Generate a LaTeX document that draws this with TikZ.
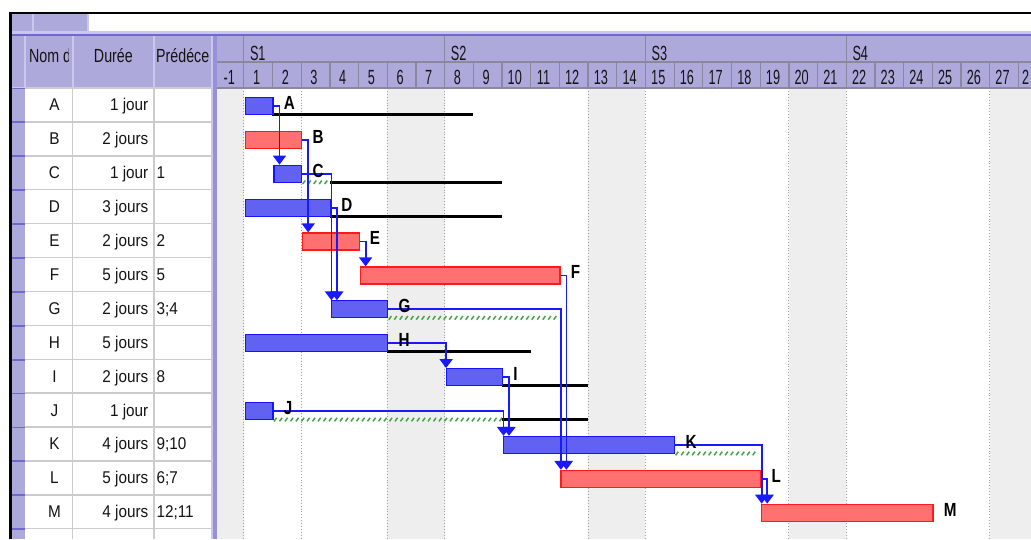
\documentclass[tikz,border=0pt]{standalone}
\usepackage{fontspec}
\setmainfont{Liberation Sans}
\newfontfamily\tabfont[FakeStretch=0.9]{Liberation Sans}
\newfontfamily\hdrfont[FakeStretch=0.75]{Liberation Sans}
\newfontfamily\tsfont[FakeStretch=0.62]{Liberation Sans}
\newfontfamily\lblfont[FakeStretch=0.8]{Liberation Sans}
\usetikzlibrary{arrows.meta,calc}

\definecolor{hdr}{RGB}{173,169,219}
\definecolor{hdrlight}{RGB}{202,199,238}
\definecolor{hdrdark}{RGB}{112,104,204}
\definecolor{sepmid}{RGB}{150,145,216}
\definecolor{hgrid}{RGB}{138,136,160}
\definecolor{tgrid}{RGB}{204,204,204}
\definecolor{wkend}{RGB}{238,238,238}
\definecolor{dotl}{RGB}{160,160,160}
\definecolor{bfill}{RGB}{98,98,242}
\definecolor{bline}{RGB}{20,20,255}
\definecolor{rfill}{RGB}{255,112,112}
\definecolor{rline}{RGB}{255,25,25}
\definecolor{conn}{RGB}{25,25,255}
\definecolor{slackg}{RGB}{70,165,70}
\definecolor{txt}{RGB}{20,20,20}

\tikzset{
  tabtxt/.style={font=\tabfont\fontsize{17}{20}\selectfont, text=txt, inner sep=0pt},
  hdrtxt/.style={font=\hdrfont\fontsize{19}{22}\selectfont, text=txt, inner sep=0pt},
  tstxt/.style={font=\tsfont\fontsize{20.5}{24}\selectfont, text=txt, inner sep=0pt},
  glabel/.style={font=\lblfont\bfseries\fontsize{19}{22}\selectfont, text=black, inner sep=0pt},
  bluebar/.style={draw=bline, fill=bfill, line width=1.2pt, inner sep=0pt, minimum height=17pt},
  redbar/.style={draw=rline, fill=rfill, line width=1.2pt, inner sep=0pt, minimum height=17pt},
  connline/.style={draw=conn, line width=1.8pt, -{Triangle[width=13pt,length=9pt]}},
  slackblack/.style={draw=black, line width=3pt},
  slackgreen/.style={draw=slackg, line width=1.5pt},
  tgridline/.style={draw=tgrid, line width=1.4pt},
  hgridline/.style={draw=hgrid, line width=1.3pt},
  wkline/.style={draw=dotl, line width=0.9pt, dotted},
}

% bar: name, row, start day, end day (exclusive), style
\newcommand\gbar[5]{%
  \pgfmathsetmacro\gxs{243.8+(#3-1)*28.69+1}%
  \pgfmathsetmacro\gxe{243.8+(#4-1)*28.69}%
  \pgfmathsetmacro\gbw{\gxe-\gxs}%
  \pgfmathsetmacro\gby{88+33.9*(#2+0.5)+1}%
  \node[#5, anchor=west, minimum width=\gbw pt] (#1) at (\gxs,\gby) {};%
}
% total slack line: row, start day, end day
\newcommand\tslack[3]{%
  \pgfmathsetmacro\gsy{88+33.9*(#1+0.5)+9.5}%
  \pgfmathsetmacro\gsa{243.8+(#2-1)*28.69}%
  \pgfmathsetmacro\gsb{243.8+(#3-1)*28.69}%
  \draw[slackblack] (\gsa,\gsy) -- (\gsb,\gsy);%
}
% free slack hatch: row, start day, end day
\newcommand\fslack[3]{%
  \pgfmathsetmacro\gfy{88+33.9*(#1+0.5)+9.5}%
  \pgfmathsetmacro\gfa{243.8+(#2-1)*28.69+1.5}%
  \pgfmathtruncatemacro\gfn{((#3-#2)*28.69-4)/5.5}%
  \foreach \k in {0,...,\gfn}{%
    \draw[slackgreen] ({\gfa+5.5*\k},{\gfy+1.8}) -- ++(2.6,-3.6);%
  }%
}

\begin{document}
\begin{tikzpicture}[x=1pt,y=-1pt]
\useasboundingbox (0,0) rectangle (1031,539);
\clip (0,0) rectangle (1031,539);
\fill[white] (0,0) rectangle (1031,539);

% weekend shading in the chart
\foreach \a/\b in {0/1,6/8,13/15,20/22,27/29}{
  \pgfmathsetmacro\wa{243.8+(\a-1)*28.69}
  \pgfmathsetmacro\wb{243.8+(\b-1)*28.69}
  \fill[wkend] (\wa,88) rectangle (\wb,539);
  \draw[wkline] (\wa,88) -- (\wa,539);
  \draw[wkline] (\wb,88) -- (\wb,539);
}
\draw[wkline] (301.18,88) -- (301.18,539);

% table body
\fill[white] (12,88) rectangle (211,539);
\fill[hdr] (12,88) rectangle (25,539);
\draw[tgridline] (72.7,88) -- (72.7,539);
\draw[tgridline] (154,88) -- (154,539);
\foreach \r in {0,...,13}{
  \pgfmathsetmacro\yy{88+33.9*\r}
  \draw[tgridline] (25,\yy) -- (211,\yy);
  \draw[draw=hdrdark, line width=1.8pt] (12,{\yy+0.4}) -- (25,{\yy+0.4});
}

% separator bar between table and chart
\fill[sepmid] (211,31) rectangle (217.3,539);
\fill[hdrlight] (211,31) rectangle (213.3,539);

% headers
\fill[hdr] (12,36) rectangle (211,88);
\fill[hdr] (217.3,36) rectangle (1031,88);
\fill[hdrlight] (12,31) rectangle (1031,34);
\draw[draw=hdrdark, line width=2pt] (12,35) -- (1031,35);
\fill[hdr] (12,14) rectangle (88,31);
\draw[draw=hdrlight, line width=1.5pt] (33,14) -- (33,31);
\draw[draw=hdrlight, line width=1.5pt] (88,14) -- (88,31);
\foreach \sx in {25,72.7,154}{
  \draw[draw=hdrlight, line width=1.8pt] (\sx,36) -- (\sx,88);
}
\draw[draw=hdrlight, line width=1.5pt] (12,87.3) -- (211,87.3);

% time scale grid
\draw[hgridline] (217.3,62) -- (1031,62);
\draw[hgridline] (217.3,88) -- (1031,88);
\foreach \sx in {243.8,444.63,645.46,846.29}{
  \draw[hgridline] (\sx,36) -- (\sx,62);
}
\foreach \n in {1,...,29}{
  \pgfmathsetmacro\gdx{243.8+(\n-1)*28.69}
  \draw[hgridline] (\gdx,62) -- (\gdx,88);
}

% table header texts
\begin{scope}
  \clip (25,36) rectangle (68.6,88);
  \node[hdrtxt, anchor=base west] (hnom) at (29,62.5) {Nom d};
\end{scope}
\node[hdrtxt, anchor=base] (hdur) at (113.4,62.5) {Durée};
\begin{scope}
  \clip (154,36) rectangle (210.5,88);
  \node[hdrtxt, anchor=base west] (hpred) at (156,62.5) {Prédéce};
\end{scope}

% time scale texts
\node[tstxt, anchor=base west] (s1) at (249.8,60) {S1};
\node[tstxt, anchor=base west] (s2) at (450.6,60) {S2};
\node[tstxt, anchor=base west] (s3) at (651.5,60) {S3};
\node[tstxt, anchor=base west] (s4) at (852.3,60) {S4};
\node[tstxt, anchor=base] (daym1) at (229.3,84.3) {-1};
\foreach \n in {1,...,27}{
  \pgfmathsetmacro\gdc{243.8+(\n-1)*28.69+12.8}
  \node[tstxt, anchor=base] (day\n) at (\gdc,84.3) {\n};
}
\node[tstxt, anchor=base west] (day28) at (1022,84.3) {2};

% table texts
\foreach \r/\nm/\du in {0/A/1 jour,1/B/2 jours,2/C/1 jour,3/D/3 jours,4/E/2 jours,5/F/5 jours,6/G/2 jours,7/H/5 jours,8/I/2 jours,9/J/1 jour,10/K/4 jours,11/L/5 jours,12/M/4 jours}{
  \pgfmathsetmacro\gty{88+33.9*(\r+0.5)+6}
  \node[tabtxt, anchor=base] (nm\nm) at (54.5,\gty) {\nm};
  \node[tabtxt, anchor=base east] (du\nm) at (148.5,\gty) {\du};
}
\foreach \r/\nm/\pr in {2/C/1,4/E/2,5/F/5,6/G/3;4,8/I/8,10/K/9;10,11/L/6;7,12/M/12;11}{
  \pgfmathsetmacro\gty{88+33.9*(\r+0.5)+6}
  \node[tabtxt, anchor=base west] (pr\nm) at (156.3,\gty) {\pr};
}

% slack lines
\tslack{0}{2}{9}
\fslack{2}{3}{4}
\tslack{2}{4}{10}
\tslack{3}{4}{10}
\fslack{6}{6}{12}
\tslack{7}{6}{11}
\tslack{8}{10}{13}
\fslack{9}{2}{10}
\tslack{9}{10}{13}
\fslack{10}{16}{19}

% bars
\gbar{A}{0}{1}{2}{bluebar}
\gbar{B}{1}{1}{3}{redbar}
\gbar{C}{2}{2}{3}{bluebar}
\gbar{D}{3}{1}{4}{bluebar}
\gbar{E}{4}{3}{5}{redbar}
\gbar{F}{5}{5}{12}{redbar}
\gbar{G}{6}{4}{6}{bluebar}
\gbar{H}{7}{1}{6}{bluebar}
\gbar{I}{8}{8}{10}{bluebar}
\gbar{J}{9}{1}{2}{bluebar}
\gbar{K}{10}{10}{16}{bluebar}
\gbar{L}{11}{12}{19}{redbar}
\gbar{M}{12}{19}{25}{redbar}

% connector columns
\coordinate (vAC) at (279.5,0);
\coordinate (vBE) at (308.2,0);
\coordinate (vCG) at (331.4,0);
\coordinate (vDG) at (336.9,0);
\coordinate (vEF) at (365.6,0);
\coordinate (vFL) at (566.4,0);
\coordinate (vGL) at (560.9,0);
\coordinate (vHI) at (446.1,0);
\coordinate (vIK) at (509.0,0);
\coordinate (vJK) at (503.5,0);
\coordinate (vKM) at (761.7,0);
\coordinate (vLM) at (767.2,0);

\draw[connline] (A.east) -| (vAC |- C.north);
\draw[connline] (B.east) -| (vBE |- E.north);
\draw[connline] (C.east) -| (vCG |- G.north);
\draw[connline] (D.east) -| (vDG |- G.north);
\draw[connline] (E.east) -| (vEF |- F.north);
\draw[connline] (F.east) -| (vFL |- L.north);
\draw[connline] (G.east) -| (vGL |- L.north);
\draw[connline] (H.east) -| (vHI |- I.north);
\draw[connline] (I.east) -| (vIK |- K.north);
\draw[connline] (J.east) -| (vJK |- K.north);
\draw[connline] (K.east) -| (vKM |- M.north);
\draw[connline] (L.east) -| (vLM |- M.north);

% bar labels
\foreach \t in {A,B,C,D,E,F,G,H,I,J,K,L,M}{
  \node[glabel, anchor=base west] (lab\t) at ($(\t.east)+(10,3.4)$) {\t};
}

% black frame
\draw[black, line width=1.7pt] (9.3,13) -- (1031,13);
\draw[black, line width=2.4pt] (10.5,12.2) -- (10.5,539);
\end{tikzpicture}
\end{document}
